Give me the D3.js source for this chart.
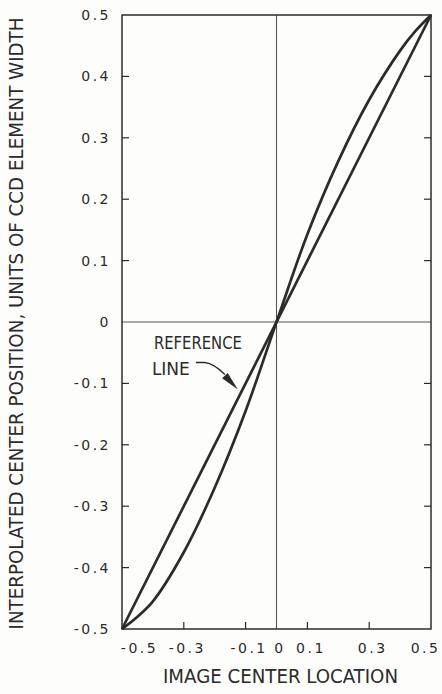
<!DOCTYPE html>
<html>
<head>
<meta charset="utf-8">
<script src="https://cdn.jsdelivr.net/npm/d3@7/dist/d3.min.js"></script>
<style>
  html, body { margin: 0; padding: 0; background: #fdfdfb; }
  svg { display: block; }
</style>
</head>
<body>
<svg id="chart" width="442" height="694"></svg>
<script>
// ---- data ----
const xTickValues = [-0.5, -0.3, -0.1, 0, 0.1, 0.3, 0.5];
const xTickLabels = ["-0.5", "-0.3", "-0.1", "0", "0.1", "0.3", "0.5"];
const yTickValues = [-0.5, -0.4, -0.3, -0.2, -0.1, 0, 0.1, 0.2, 0.3, 0.4, 0.5];
const yTickLabels = ["-0.5", "-0.4", "-0.3", "-0.2", "-0.1", "0", "0.1", "0.2", "0.3", "0.4", "0.5"];
const innerTickValuesX = [-0.3, -0.1, 0.1, 0.3];
const innerTickValuesY = [-0.4, -0.3, -0.2, -0.1, 0.1, 0.2, 0.3, 0.4];

// reference line (ideal)
const refX = [-0.5, 0.5];
const refY = [-0.5, 0.5];

// interpolated center curve (S-shaped)
const curveX = [-0.5, -0.45, -0.4, -0.3, -0.2, -0.1, 0, 0.1, 0.2, 0.3, 0.4, 0.45, 0.5];
const curveY = [-0.5, -0.48, -0.455, -0.375, -0.27, -0.145, 0, 0.143, 0.262, 0.362, 0.442, 0.474, 0.5];

const yTitle = "INTERPOLATED CENTER POSITION, UNITS OF CCD ELEMENT WIDTH";
const xTitle = "IMAGE CENTER LOCATION";
const annotation = ["REFERENCE", "LINE"];
const annotationAt = [-0.125, -0.11]; // point on reference line the arrow touches

// ---- layout ----
const svg = d3.select("#chart");
const L = 122, R = 431, T = 15, B = 629;
const x = d3.scaleLinear().domain([-0.5, 0.5]).range([L, R]);
const y = d3.scaleLinear().domain([-0.5, 0.5]).range([B, T]);
const ink = "#2b2b2b";
const numFont = "'DejaVu Sans', sans-serif";
const titleFont = "'DejaVu Sans Condensed', 'Liberation Sans Narrow', 'DejaVu Sans', sans-serif";

// zero lines
svg.append("line").attr("x1", x(0)).attr("x2", x(0)).attr("y1", y(0.5)).attr("y2", y(-0.5))
  .attr("stroke", "#555").attr("stroke-width", 1.1);
svg.append("line").attr("x1", x(-0.5)).attr("x2", x(0.5)).attr("y1", y(0)).attr("y2", y(0))
  .attr("stroke", "#555").attr("stroke-width", 1.1);

// frame
svg.append("rect").attr("x", L).attr("y", T).attr("width", R - L).attr("height", B - T)
  .attr("fill", "none").attr("stroke", ink).attr("stroke-width", 1.5);

// left axis labels
const yAxis = d3.axisLeft(y).tickValues(yTickValues)
  .tickFormat((d, i) => yTickLabels[i]).tickSizeInner(0).tickSizeOuter(0).tickPadding(11);
const gy = svg.append("g").attr("transform", `translate(${L},0)`).call(yAxis);
gy.select(".domain").remove();
gy.selectAll("text").attr("font-family", numFont).attr("font-size", 14)
  .attr("letter-spacing", "2.5px").attr("fill", ink);

// inward tick marks (left, right, bottom)
const tl = 7;
svg.append("g").selectAll("line").data(innerTickValuesY).join("line")
  .attr("x1", L).attr("x2", L + tl).attr("y1", d => y(d)).attr("y2", d => y(d))
  .attr("stroke", ink).attr("stroke-width", 1.2);
svg.append("g").selectAll("line").data(innerTickValuesY).join("line")
  .attr("x1", R).attr("x2", R - tl).attr("y1", d => y(d)).attr("y2", d => y(d))
  .attr("stroke", ink).attr("stroke-width", 1.2);
svg.append("g").selectAll("line").data(innerTickValuesX).join("line")
  .attr("x1", d => x(d)).attr("x2", d => x(d)).attr("y1", B).attr("y2", B - tl)
  .attr("stroke", ink).attr("stroke-width", 1.2);

// bottom axis labels
const labelShift = { "-0.5": 16, "0.5": -7 };
const xAxis = d3.axisBottom(x).tickValues(xTickValues)
  .tickFormat((d, i) => xTickLabels[i]).tickSizeInner(0).tickSizeOuter(0).tickPadding(14);
const gx = svg.append("g").attr("transform", `translate(0,${B})`).call(xAxis);
gx.select(".domain").remove();
gx.selectAll("text").attr("font-family", numFont).attr("font-size", 14)
  .attr("letter-spacing", "2.5px").attr("fill", ink)
  .attr("dx", (d, i) => (labelShift[xTickLabels[i]] || 2) + 1);

// lines
const line = d3.line().x(d => x(d[0])).y(d => y(d[1]));
svg.append("path").datum(refX.map((v, i) => [v, refY[i]]))
  .attr("d", line).attr("fill", "none").attr("stroke", ink).attr("stroke-width", 2.7);
svg.append("path").datum(curveX.map((v, i) => [v, curveY[i]]))
  .attr("d", line.curve(d3.curveCatmullRom.alpha(0.5))).attr("fill", "none")
  .attr("stroke", ink).attr("stroke-width", 2.7);

// annotation
const tx = x(annotationAt[0]), ty = y(annotationAt[1]);
svg.append("text").attr("x", tx - 84).attr("y", ty - 41).text(annotation[0])
  .attr("font-family", titleFont).attr("font-size", 18).attr("fill", ink)
  .attr("textLength", 88).attr("lengthAdjust", "spacingAndGlyphs");
svg.append("text").attr("x", tx - 86).attr("y", ty - 15).text(annotation[1])
  .attr("font-family", titleFont).attr("font-size", 18).attr("fill", ink)
  .attr("textLength", 38).attr("lengthAdjust", "spacingAndGlyphs");
svg.append("path")
  .attr("d", `M${tx - 42},${ty - 27} L${tx - 33},${ty - 27} Q${tx - 24},${ty - 26} ${tx - 13},${ty - 15}`)
  .attr("fill", "none").attr("stroke", ink).attr("stroke-width", 1.4);
// arrowhead
(function () {
  const dx = 14, dy = 15, len = Math.hypot(dx, dy);
  const ux = dx / len, uy = dy / len, px = -uy, py = ux;
  const bx = tx - ux * 19, by = ty - uy * 19, w = 3.8;
  svg.append("path")
    .attr("d", `M${tx},${ty} L${bx + px * w},${by + py * w} L${bx - px * w},${by - py * w} Z`)
    .attr("fill", ink);
})();

// titles
svg.append("text").attr("transform", "rotate(-90)")
  .attr("x", -(17 + 630) / 2).attr("y", 23).attr("text-anchor", "middle")
  .attr("font-family", titleFont).attr("font-size", 19).attr("fill", ink)
  .attr("textLength", 612).attr("lengthAdjust", "spacingAndGlyphs").text(yTitle);
svg.append("text").attr("x", 163).attr("y", 683)
  .attr("font-family", titleFont).attr("font-size", 19).attr("fill", ink)
  .attr("textLength", 235).attr("lengthAdjust", "spacingAndGlyphs").text(xTitle);
</script>
</body>
</html>
